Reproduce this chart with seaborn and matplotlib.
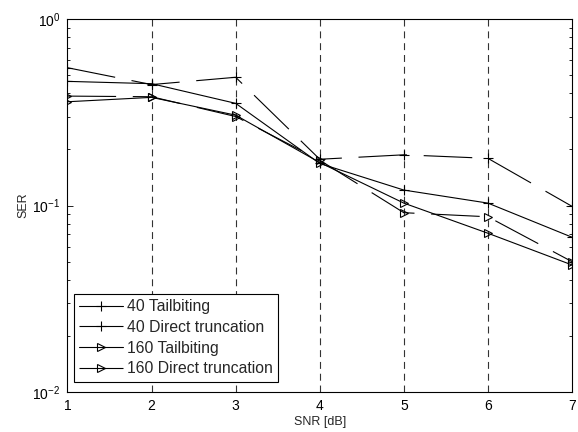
import numpy as np
import pandas as pd
import matplotlib
matplotlib.use("Agg")
import matplotlib.pyplot as plt
import seaborn as sns
from matplotlib.ticker import LogLocator, FixedLocator, NullLocator

snr = [1, 2, 3, 4, 5, 6, 7]
ser_40_tail = [0.463, 0.450, 0.353, 0.168, 0.121, 0.103, 0.0676]
ser_40_direct = [0.548, 0.445, 0.487, 0.177, 0.187, 0.179, 0.099]
ser_160_tail = [0.360, 0.380, 0.305, 0.170, 0.103, 0.071, 0.048]
ser_160_direct = [0.386, 0.383, 0.300, 0.175, 0.0915, 0.087, 0.050]
labels = ["40 Tailbiting", "40 Direct truncation", "160 Tailbiting", "160 Direct truncation"]

sns.set_style("ticks")
plt.rcParams['font.family'] = ['Liberation Sans', 'DejaVu Sans']
plt.rcParams['mathtext.fontset'] = 'custom'
plt.rcParams['mathtext.rm'] = 'Liberation Sans'
plt.rcParams['mathtext.it'] = 'Liberation Sans:italic'
plt.rcParams['mathtext.bf'] = 'Liberation Sans:bold'
plt.rcParams['lines.scale_dashes'] = False

fig = plt.figure(figsize=(5.78, 4.32), dpi=100)
ax = fig.add_axes([0.11678, 0.09259, 0.87284, 0.86343])

series = [ser_40_tail, ser_40_direct, ser_160_tail, ser_160_direct]
markers = ['+', '+', '>', '>']
styles = ['-', (0, (35, 12)), '-', (0, (35, 12))]
for vals, lab, mk, ls in zip(series, labels, markers, styles):
    df = pd.DataFrame({"SNR": snr, "SER": vals})
    sns.lineplot(data=df, x="SNR", y="SER", ax=ax, color='black', linewidth=0.8,
                 marker=mk, markersize=6.5 if mk == '+' else 6, markerfacecolor='none',
                 markeredgecolor='black', markeredgewidth=0.8, linestyle=ls, label=lab,
                 sort=False, errorbar=None, zorder=3)

ax.set_yscale('log')
ax.set_xlim(1, 7)
ax.set_ylim(1e-2, 1e0)
ax.xaxis.set_major_locator(FixedLocator(snr))
ax.xaxis.set_minor_locator(NullLocator())
ax.yaxis.set_major_locator(LogLocator(base=10, numticks=10))
ax.yaxis.set_minor_locator(LogLocator(base=10, subs=np.arange(2, 10), numticks=10))
ax.set_xticklabels([str(v) for v in snr])

for v in snr[1:-1]:
    ax.axvline(v, color='0.2', linewidth=0.8, linestyle=(0, (5, 3.5)), zorder=1)

for s in ax.spines.values():
    s.set_visible(True)
    s.set_color('black')
    s.set_linewidth(0.8)

ax.tick_params(axis='both', which='both', direction='in', top=True, right=True,
               colors='black', width=0.6)
ax.tick_params(axis='both', which='major', length=4.5, labelsize=10, pad=5)
ax.tick_params(axis='y', which='minor', length=2.5)

ax.set_xlabel("SNR [dB]", fontsize=9, labelpad=2)
ax.set_ylabel("SER", fontsize=9, labelpad=2)

leg = ax.legend(loc='lower left', bbox_to_anchor=(74 / 578, 50.3 / 432),
                bbox_transform=fig.transFigure, borderaxespad=0,
                fontsize=11.3, handlelength=2.75, handletextpad=0.25,
                labelspacing=0.36, borderpad=0.35, fancybox=False,
                framealpha=1, edgecolor='black')
leg.get_frame().set_linewidth(0.8)
leg.set_zorder(5)

fig.savefig("out.png", dpi=100, facecolor='white')
